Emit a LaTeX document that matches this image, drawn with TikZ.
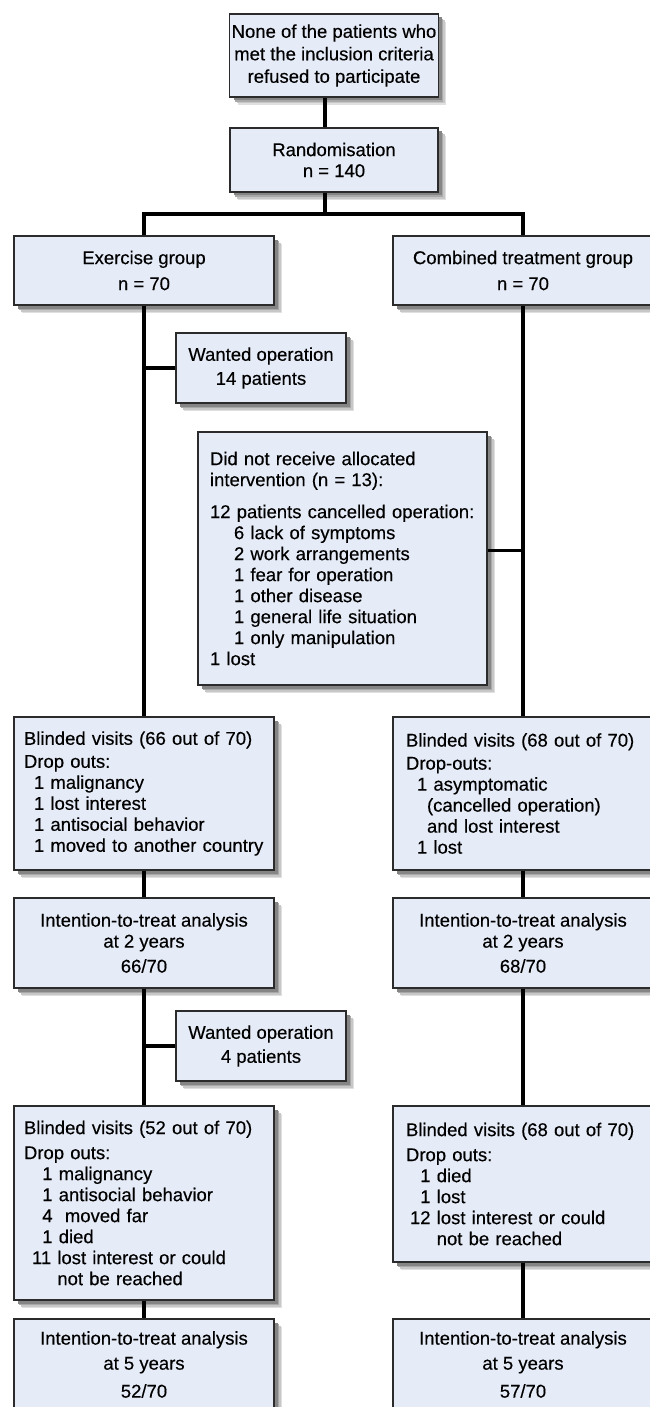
\documentclass[tikz,border=0pt]{standalone}
\usepackage{fontspec}
\setmainfont{Liberation Sans}[FakeBold=0.35]
\hyphenpenalty=10000
\definecolor{boxfill}{HTML}{E6ECF7}
\definecolor{boxline}{HTML}{2B2B2B}
\tikzset{
	box/.style={rectangle, draw=boxline, line width=1.2pt, fill=boxfill, inner ysep=0pt},
	cbox/.style={box, align=center, inner xsep=2pt},
	lbox/.style={box, align=left, inner xsep=10pt, text width=240pt},
	rbox/.style={box, align=left, inner xsep=13pt, text width=234pt},
	conn/.style={line width=3.5pt, black}
}
\begin{document}
\begin{tikzpicture}[x=1pt, y=-1pt, font=\fontsize{18.5}{21}\selectfont]
			\useasboundingbox (0,0) rectangle (649,1407);
			\foreach \cx/\cy/\w/\h in {334/55.5/208/83, 334/160/208/64, 144/270.5/260/69, 523/270.5/260/69, 261/368/170/70, 342.5/558.5/289/253, 144/793.5/260/153, 523/793.5/260/153, 144/943/260/90, 523/943/260/90, 261/1046/170/70, 144/1203/260/194, 523/1184/260/156, 144/1364.5/260/91, 523/1364.5/260/91}
				\foreach \dd/\gr in {8/12, 6.5/22, 5/34, 3.5/48}
					\fill[black!\gr] ({\cx-\w/2+\dd},{\cy-\h/2+\dd}) rectangle ({\cx+\w/2+\dd},{\cy+\h/2+\dd});
			\node[cbox, minimum width=208, minimum height=83] (none) at (334,55.5) {None of the patients who\\[1.5pt] met the inclusion criteria\\[1.5pt] refused to participate};
			\node[cbox, minimum width=208, minimum height=64] (rand) at (334,160) {Randomisation\\ n = 140};
			\node[cbox, minimum width=260, minimum height=69] (exer) at (144,270.5) {Exercise group\\[5pt] n = 70};
			\node[cbox, minimum width=260, minimum height=69] (comb) at (523,270.5) {Combined treatment group\\[5pt] n = 70};
			\node[cbox, minimum width=170, minimum height=70] (wantA) at (261,368) {Wanted operation\\[3pt] 14 patients};
			\node[box, align=left, inner xsep=12pt, text width=265pt, minimum height=253] (norec) at (342.5,558.5) {Did not receive allocated\\ intervention (n = 13):\\[11pt]
				12 patients cancelled operation:\\
				\hspace*{24pt}6 lack of symptoms\\
				\hspace*{24pt}2 work arrangements\\
				\hspace*{24pt}1 fear for operation\\
				\hspace*{24pt}1 other disease\\
				\hspace*{24pt}1 general life situation\\
				\hspace*{24pt}1 only manipulation\\
				1 lost};
			\node[lbox, minimum height=153] (visA) at (144,793.5) {Blinded visits (66 out of 70)\\[2pt]
				Drop outs:\\
				\hspace*{10pt}1 malignancy\\
				\hspace*{10pt}1 lost interest\\
				\hspace*{10pt}1 antisocial behavior\\
				\hspace*{10pt}1 moved to another country};
			\node[rbox, minimum height=153] (visB) at (523,793.5) {Blinded visits (68 out of 70)\\[2pt]
				Drop-outs:\\
				\hspace*{11pt}1 asymptomatic\\
				\hspace*{21pt}(cancelled operation)\\
				\hspace*{21pt}and lost interest\\
				\hspace*{11pt}1 lost};
			\node[cbox, minimum width=260, minimum height=90] (ittA) at (144,943) {Intention-to-treat analysis\\ at 2 years\\[4pt] 66/70};
			\node[cbox, minimum width=260, minimum height=90] (ittB) at (523,943) {Intention-to-treat analysis\\ at 2 years\\[4pt] 68/70};
			\node[cbox, minimum width=170, minimum height=70] (wantB) at (261,1046) {Wanted operation\\[3pt] 4 patients};
			\node[lbox, minimum height=194] (visC) at (144,1203) {Blinded visits (52 out of 70)\\[4pt]
				Drop outs:\\
				\hspace*{8pt}\hphantom{1}1 malignancy\\
				\hspace*{8pt}\hphantom{1}1 antisocial behavior\\
				\hspace*{8pt}\hphantom{1}4 \ moved far\\
				\hspace*{8pt}\hphantom{1}1 died\\
				\hspace*{8pt}11 lost interest or could\\
				\hspace*{8pt}\hphantom{11 }not be reached};
			\node[rbox, minimum height=156] (visD) at (523,1184) {Blinded visits (68 out of 70)\\[4pt]
				Drop outs:\\
				\hspace*{4pt}\hphantom{1}1 died\\
				\hspace*{4pt}\hphantom{1}1 lost\\
				\hspace*{4pt}12 lost interest or could\\
				\hspace*{4pt}\hphantom{12 }not be reached};
			\node[cbox, minimum width=260, minimum height=91] (ittC) at (144,1364.5) {Intention-to-treat analysis\\[4pt] at 5 years\\[7pt] 52/70};
			\node[cbox, minimum width=260, minimum height=91] (ittD) at (523,1364.5) {Intention-to-treat analysis\\[4pt] at 5 years\\[7pt] 57/70};
			\coordinate (split) at (325,214);
			\draw[conn] ([xshift=-9pt]none.south) -- ([xshift=-9pt]rand.north);
			\draw[conn] ([xshift=-9pt]rand.south) -- (split);
			\draw[conn] (exer.north) |- (split) -| (comb.north);
			\draw[conn] (exer.south) -- (visA.north);
			\draw[conn] (wantA.west) -- (wantA.west -| exer.south);
			\draw[conn] (comb.south) -- (visB.north);
			\draw[conn] ([yshift=8pt]norec.east) -- ([yshift=8pt]norec.east -| comb.south);
			\draw[conn] (visA.south) -- (ittA.north);
			\draw[conn] (visB.south) -- (ittB.north);
			\draw[conn] (ittA.south) -- (visC.north);
			\draw[conn] (wantB.west) -- (wantB.west -| ittA.south);
			\draw[conn] (ittB.south) -- (visD.north);
			\draw[conn] (visC.south) -- (ittC.north);
			\draw[conn] (visD.south) -- (ittD.north);
\end{tikzpicture}
\end{document}
